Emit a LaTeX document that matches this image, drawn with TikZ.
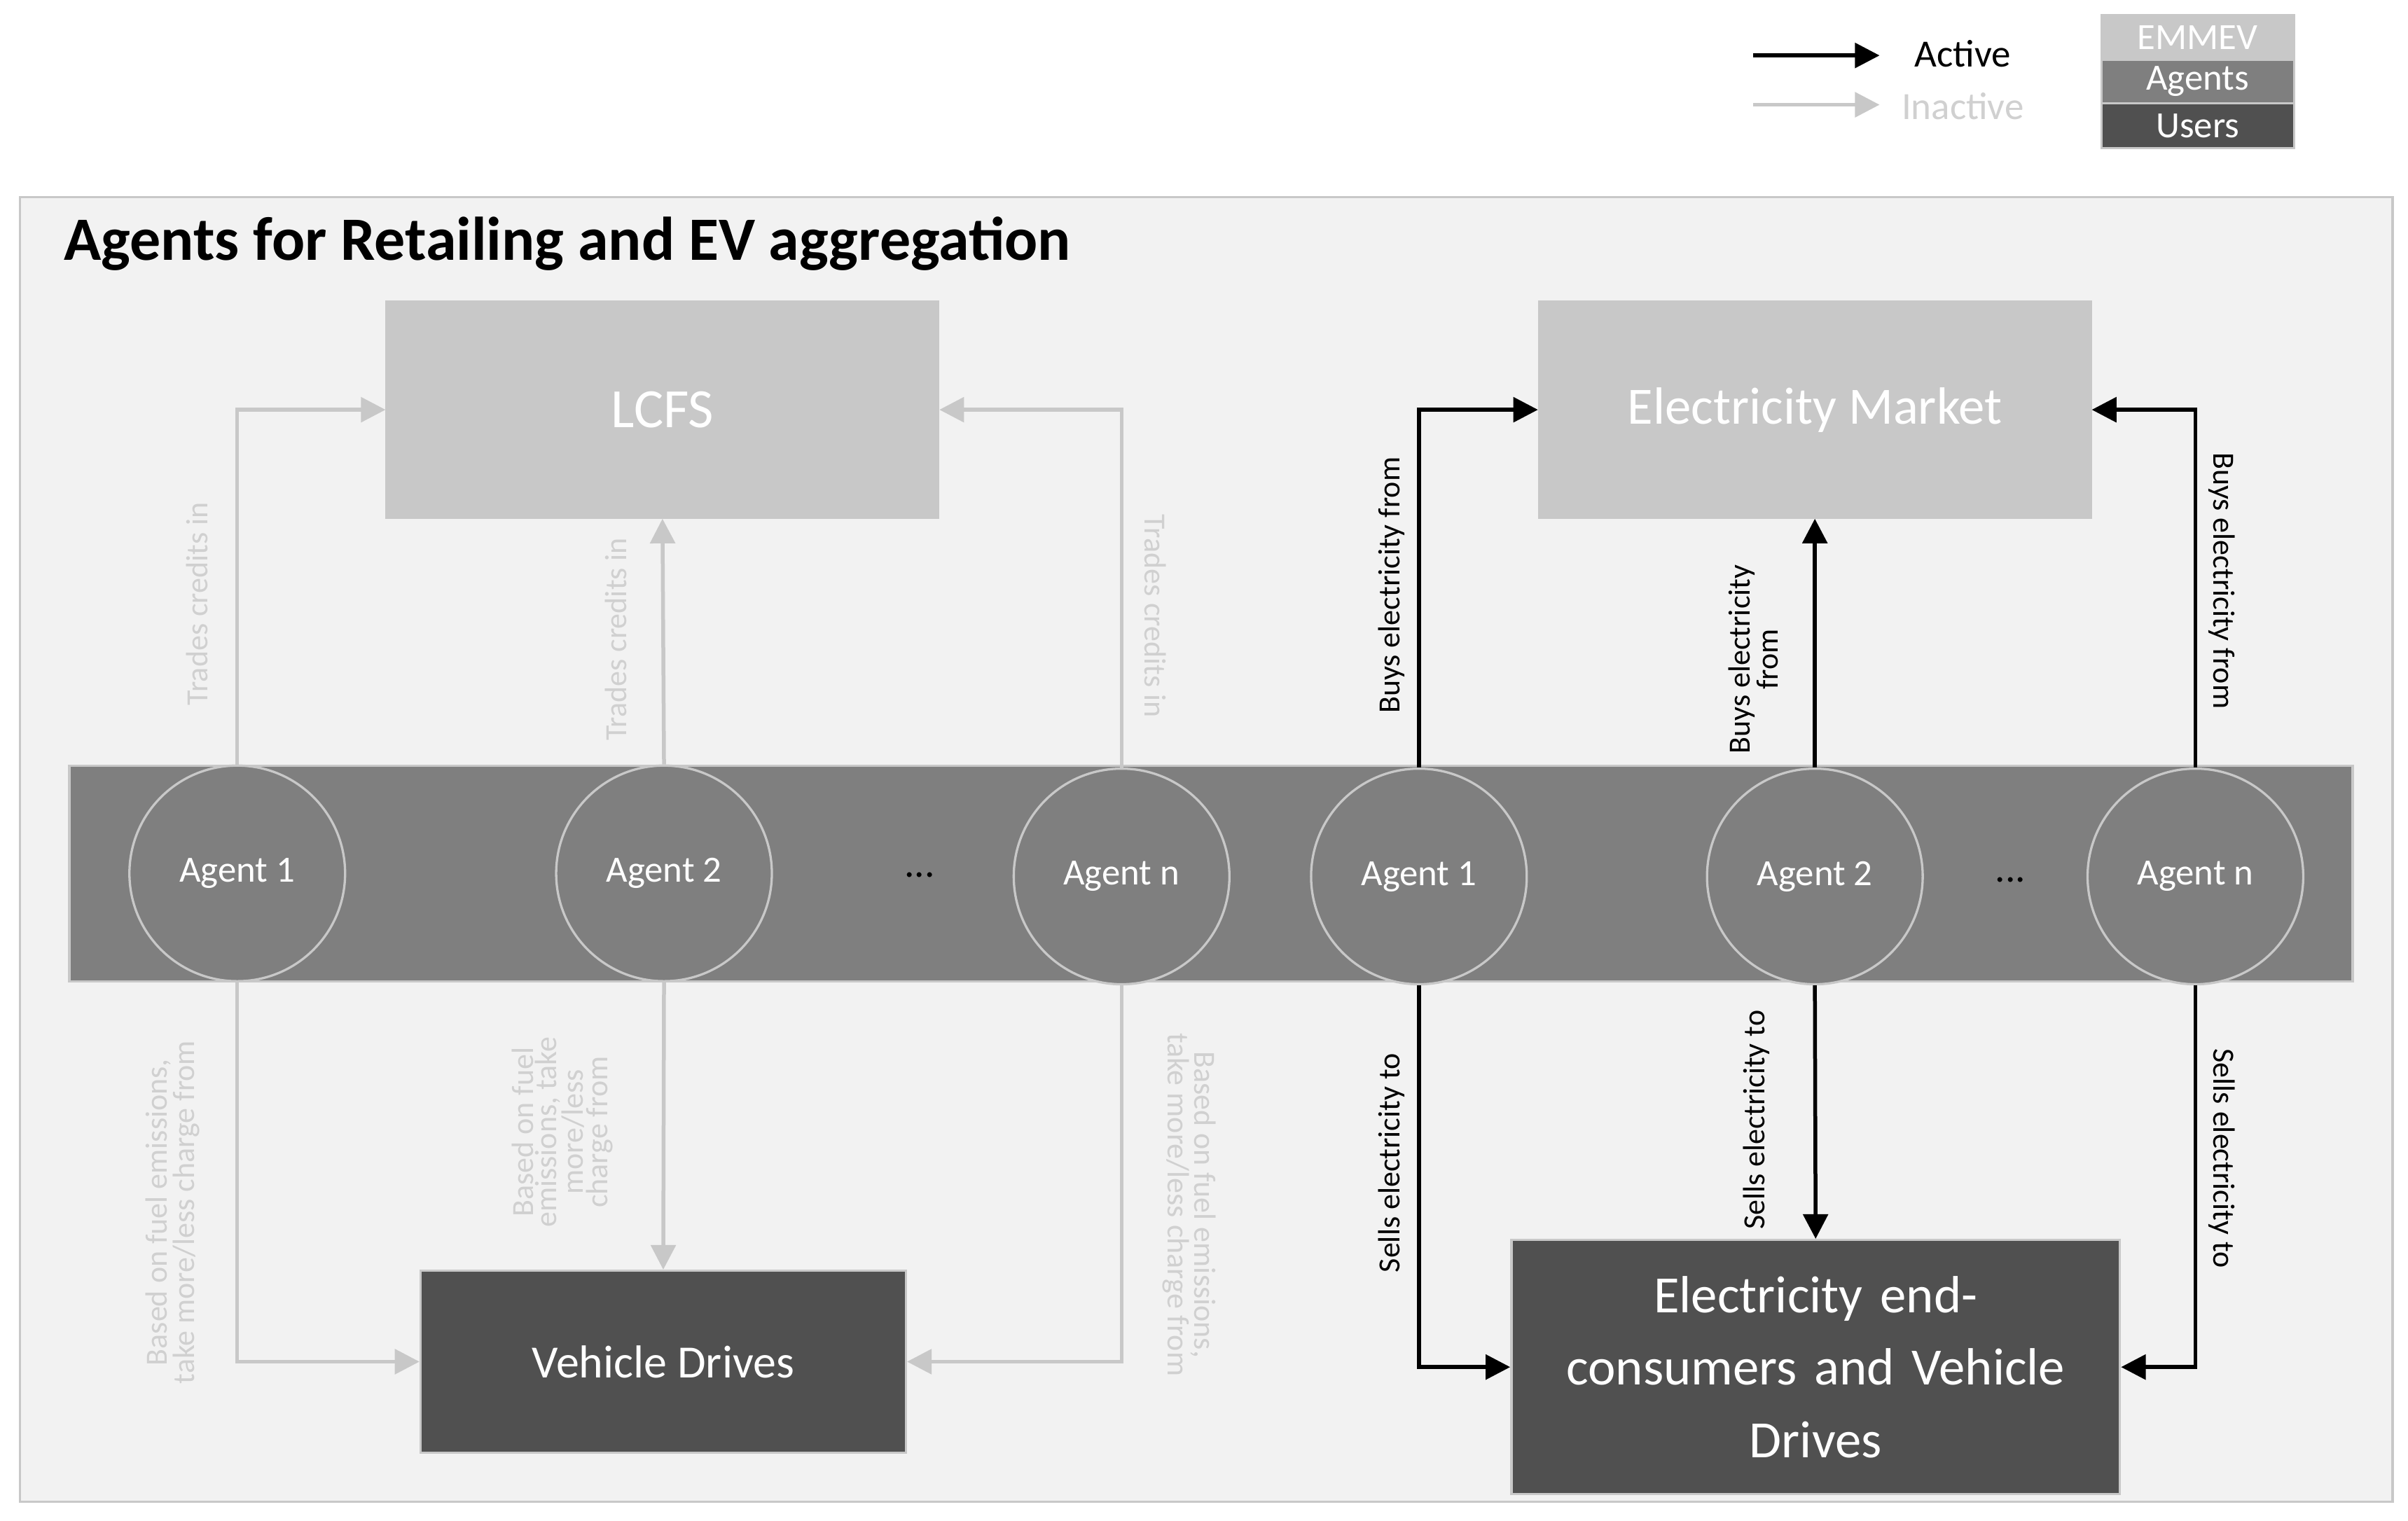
\documentclass[tikz,border=0pt]{standalone}
\usepackage{fontspec}
\setmainfont{Carlito}
\usetikzlibrary{arrows.meta}
\definecolor{lg}{HTML}{C8C8C8}
\definecolor{mg}{HTML}{7F7F7F}
\definecolor{dg}{HTML}{505050}
\definecolor{fg}{HTML}{D0D0D0}
\begin{document}
\begin{tikzpicture}[x=1pt,y=-1pt,
 fs/.style={font=\fontsize{#1}{1.22em}\selectfont},
 box/.style={draw=lg,line width=1.5,text=white,align=center,inner sep=0},
 ag/.style={circle,draw=lg,fill=mg,line width=1.5,minimum size=140,inner sep=0,text=white,fs=24},
 blk/.style={line width=2.5,black,-{Triangle[length=16,width=16]}},
 gry/.style={line width=2.5,lg,-{Triangle[length=16,width=16]}},
 gl/.style={text=fg,fs=20,align=center,inner sep=0},
 bl/.style={text=black,fs=20,align=center,inner sep=0}]
\useasboundingbox (0,0) rectangle (1563,987);
\fill[white] (0,0) rectangle (1563,987);
% legend
\coordinate (la1) at (1138,36); \coordinate (la2) at (1220,36);
\coordinate (li1) at (1138,68); \coordinate (li2) at (1220,68);
\draw[blk] (la1) -- (la2); \draw[gry] (li1) -- (li2);
\node[fs=25] (act) at (1274,35) {Active};
\node[fs=25,text=fg] (inact) at (1274,69) {Inactive};
\node[box,fill=lg,minimum width=125,minimum height=29,fs=24] (lem) at (1426.5,24.5) {EMMEV};
\node[box,fill=mg,minimum width=125,minimum height=28,fs=24] (lag) at (1426.5,53) {Agents};
\node[box,fill=dg,minimum width=125,minimum height=29,fs=24] (lus) at (1426.5,81.5) {Users};
% panel
\draw[draw=lg,fill=black!5,line width=1.5] (13,128) rectangle (1553,975);
\node[anchor=west,font=\bfseries\fontsize{40}{48}\selectfont] (title) at (38,158) {Agents for Retailing and EV aggregation};
\node[box,fill=lg,minimum width=358,minimum height=140,fs=36] (lcfs) at (430,266) {LCFS};
\node[box,fill=lg,minimum width=358,minimum height=140,fs=34] (em) at (1178,266) {Electricity Market};
\fill[mg,draw=lg,line width=1.5] (45,497) rectangle (1527,637);
\node[ag] (a1) at (154,567) {Agent 1};
\node[ag] (a2) at (431,567) {Agent 2};
\node[ag] (an) at (728,569) {Agent n};
\node[ag] (b1) at (921,569) {Agent 1};
\node[ag] (b2) at (1178,569) {Agent 2};
\node[ag] (bn) at (1425,569) {Agent n};
\node[fs=26] (d1) at (597,568) {...};
\node[fs=26] (d2) at (1305,571) {...};
\node[box,fill=dg,minimum width=315,minimum height=118,fs=30] (vd) at (430.5,884) {Vehicle Drives};
\node[box,fill=dg,minimum width=395,minimum height=165,text width=380,font=\fontsize{34}{47}\selectfont] (ec) at (1178.5,887.5) {Electricity end-\\consumers and Vehicle\\Drives};
% gray arrows
\draw[gry] (a1.north) |- (lcfs.west);
\draw[gry] (a2.north) -- (lcfs.south);
\draw[gry] (an.north) |- (lcfs.east);
\draw[gry] (a1.south) |- (vd.west);
\draw[gry] (a2.south) -- (vd.north);
\draw[gry] (an.south) |- (vd.east);
\node[gl,rotate=90] (t1) at (128,392) {Trades credits in};
\node[gl,rotate=90] (t2) at (400,415) {Trades credits in};
\node[gl,rotate=-90] (t3) at (750,400) {Trades credits in};
\node[gl,rotate=90] (f1) at (112,787) {Based on fuel emissions,\\take more/less charge from};
\node[gl,rotate=90] (f2) at (365,735) {Based on fuel\\emissions, take\\more/less\\charge from};
\node[gl,rotate=-90] (f3) at (772,782) {Based on fuel emissions,\\take more/less charge from};
% black arrows
\draw[blk] (b1.north) |- (em.west);
\draw[blk] (b2.north) -- (em.south);
\draw[blk] (bn.north) |- (em.east);
\draw[blk] (b1.south) |- (ec.west);
\draw[blk] (b2.south) -- (ec.north);
\draw[blk] (bn.south) |- (ec.east);
\node[bl,rotate=90] (s1) at (903,380) {Buys electricity from};
\node[bl,rotate=90] (s2) at (1138,428) {Buys electricity\\from};
\node[bl,rotate=-90] (s3) at (1442,377) {Buys electricity from};
\node[bl,rotate=90] (s4) at (903,755) {Sells electricity to};
\node[bl,rotate=90] (s5) at (1140,727) {Sells electricity to};
\node[bl,rotate=-90] (s6) at (1442,752) {Sells electricity to};
\end{tikzpicture}
\end{document}
